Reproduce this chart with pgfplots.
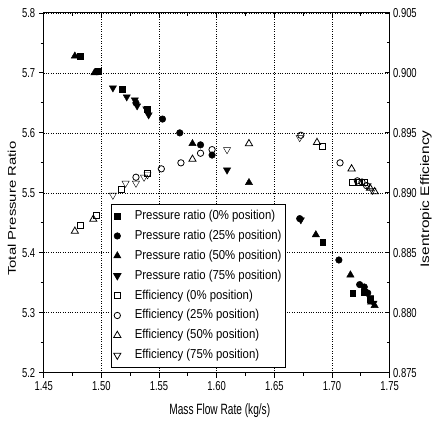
\documentclass[border=0pt]{standalone}
\usepackage{fontspec}
\setmainfont{Liberation Sans}
\newfontfamily\tickf[FakeStretch=0.73]{Liberation Sans}
\newfontfamily\legf[FakeStretch=0.88]{Liberation Sans}
\newfontfamily\labf[FakeStretch=0.68]{Liberation Sans}
\usepackage{graphicx}
\usepackage{pgfplots}
\pgfplotsset{compat=1.18}

\newcommand\tfont{\tickf\fontsize{13}{14}\selectfont}
\pgfplotsset{
  base/.style={
    width=348pt,height=362pt,scale only axis,
    xmin=1.45,xmax=1.75,
    xtick={1.45,1.50,1.55,1.60,1.65,1.70,1.75},
    minor x tick num=1,minor y tick num=1,
    major tick length=5pt,minor tick length=3pt,
    axis line style={line width=1pt},
    every tick/.style={black,line width=0.8pt},
    tick label style={font=\tfont},
    /pgf/number format/assume math mode=true,
    clip=false,
  },
  pr/.style={only marks,black,mark options={solid,fill=black,line width=0.5pt}},
  ef/.style={only marks,black,mark options={solid,fill=white,line width=0.8pt}},
}

\begin{document}
\begin{tikzpicture}
\begin{axis}[base,
  ymin=5.2,ymax=5.8,
  ytick={5.2,5.3,5.4,5.5,5.6,5.7,5.8},
  xtick pos=bottom,ytick pos=left,tick align=outside,
  grid=major,major grid style={dotted,black,line width=0.6pt},
  xticklabel={\tfont\pgfmathprintnumber[fixed,fixed zerofill,precision=2]{\tick}},
  yticklabel={\tfont\pgfmathprintnumber[fixed,fixed zerofill,precision=1]{\tick}},
  xlabel={\labf\fontsize{15}{18}\selectfont Mass Flow Rate (kg/s)},
  xlabel style={at={(axis description cs:0.509,-0.105)},anchor=center},
  ylabel={\fontsize{15}{18}\selectfont\scalebox{1}[0.75]{Total Pressure Ratio}},
  ylabel style={at={(axis description cs:-0.092,0.456)},anchor=center},
]
% pressure ratio, 0% position
\addplot[pr,mark=square*,mark size=3pt] coordinates {
(1.482,5.728) (1.497,5.703) (1.518,5.673) (1.540,5.640) (1.692,5.417)
(1.718,5.333) (1.728,5.335) (1.733,5.322)};
% 25% position
\addplot[pr,mark=*,mark size=3.3pt] coordinates {
(1.496,5.702) (1.530,5.650) (1.553,5.623) (1.568,5.600) (1.586,5.580)
(1.596,5.563) (1.672,5.457) (1.706,5.388) (1.724,5.347) (1.728,5.343) (1.731,5.333)};
% 50% position
\addplot[pr,mark=triangle*,mark size=4.2pt] coordinates {
(1.477,5.728) (1.494,5.700) (1.579,5.582) (1.628,5.517) (1.686,5.430)
(1.716,5.363) (1.734,5.318) (1.737,5.312)};
% 75% position
\addplot[pr,mark=triangle*,mark size=4.2pt,mark options={rotate=180}] coordinates {
(1.510,5.675) (1.522,5.660) (1.529,5.655) (1.531,5.645) (1.539,5.640)
(1.541,5.630) (1.609,5.538) (1.673,5.455) (1.733,5.325) (1.736,5.316)};
\path (rel axis cs:-0.1264,-0.149) rectangle (rel axis cs:1.1236,1.0359);
\end{axis}

\begin{axis}[base,
  ymin=0.875,ymax=0.905,
  ytick={0.875,0.880,0.885,0.890,0.895,0.900,0.905},
  axis y line*=right,axis x line*=top,
  tick align=inside,
  xticklabels={},
  yticklabel={\tfont\pgfmathprintnumber[fixed,fixed zerofill,precision=3]{\tick}},
  ylabel={\fontsize{15.5}{18}\selectfont\scalebox{1}[0.8]{Isentropic Efficiency}},
  ylabel style={at={(axis description cs:1.105,0.483)},anchor=center},
  legend cell align=left,
  legend style={at={(axis description cs:0.1954,0.4696)},anchor=north west,
    font=\legf\fontsize{13}{14}\selectfont,draw=black,line width=0.8pt,
    row sep=0pt,inner sep=2pt,
    nodes={inner sep=2pt,text height=11.5pt,text depth=4.5pt}},
]
\addlegendimage{pr,mark=square*,mark size=3pt}
\addlegendentry{\hspace{12pt}Pressure ratio (0\% position)}
\addlegendimage{pr,mark=*,mark size=3.3pt}
\addlegendentry{\hspace{12pt}Pressure ratio (25\% position)}
\addlegendimage{pr,mark=triangle*,mark size=4.2pt}
\addlegendentry{\hspace{12pt}Pressure ratio (50\% position)}
\addlegendimage{pr,mark=triangle*,mark size=4.2pt,mark options={rotate=180}}
\addlegendentry{\hspace{12pt}Pressure ratio (75\% position)}
% efficiency, 0% position
\addplot[ef,mark=square,mark size=3pt] coordinates {
(1.482,0.8873) (1.496,0.8881) (1.517,0.8903) (1.540,0.8916) (1.692,0.8939)
(1.718,0.8909) (1.724,0.8909) (1.728,0.8909)};
\addlegendentry{\hspace{12pt}Efficiency (0\% position)}
% 25% position
\addplot[ef,mark=o,mark size=3.2pt] coordinates {
(1.530,0.8913) (1.552,0.8920) (1.569,0.8925) (1.586,0.8933) (1.596,0.8936)
(1.673,0.8948) (1.707,0.8925) (1.722,0.8910) (1.726,0.8909) (1.730,0.8906)};
\addlegendentry{\hspace{12pt}Efficiency (25\% position)}
% 50% position
\addplot[ef,mark=triangle,mark size=4.2pt] coordinates {
(1.477,0.8868) (1.493,0.8878) (1.579,0.8928) (1.628,0.8941) (1.687,0.8942)
(1.717,0.8920) (1.733,0.8904) (1.737,0.8901)};
\addlegendentry{\hspace{12pt}Efficiency (50\% position)}
% 75% position
\addplot[ef,mark=triangle,mark size=4.2pt,mark options={rotate=180}] coordinates {
(1.510,0.8898) (1.521,0.8908) (1.530,0.8908) (1.537,0.8913) (1.540,0.8915)
(1.609,0.8936) (1.672,0.8946) (1.731,0.8906) (1.735,0.8902)};
\addlegendentry{\hspace{12pt}Efficiency (75\% position)}
\end{axis}
\end{tikzpicture}
\end{document}
